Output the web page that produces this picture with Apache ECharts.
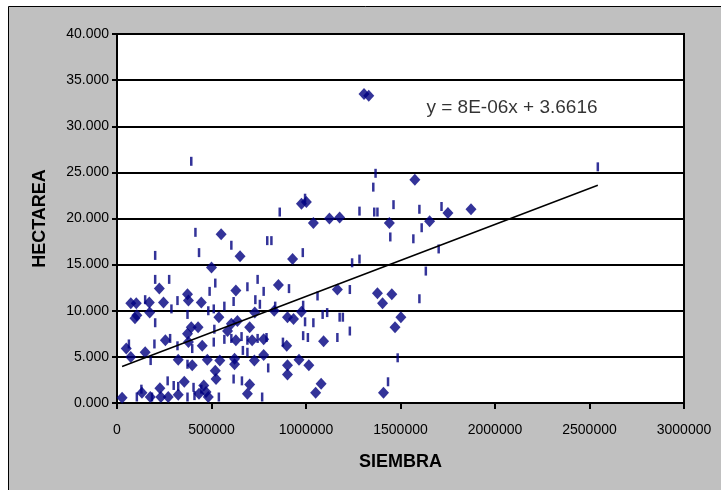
<!DOCTYPE html>
<html>
<head>
<meta charset="utf-8">
<script src="https://cdn.jsdelivr.net/npm/echarts@6/dist/echarts.min.js"></script>
<style>
html,body{margin:0;padding:0;background:#fff;}
#c{width:721px;height:490px;}
</style>
</head>
<body>
<div id="c"></div>
<script>
// Diamond-marker points (SIEMBRA, HECTAREA)
const diamondX = [27000,49000,73000,73000,102000,95000,105000,149000,171000,173000,224000,227000,246000,256000,232000,132000,176000,271000,324000,324000,356000,373000,378000,373000,393000,398000,378000,429000,446000,451000,459000,434000,471000,483000,478000,500000,520000,524000,539000,551000,544000,585000,605000,622000,622000,629000,629000,637000,651000,702000,690000,702000,715000,727000,729000,776000,776000,832000,854000,898000,902000,902000,902000,929000,934000,963000,976000,976000,1002000,1015000,1039000,1051000,1080000,1093000,1124000,1166000,1178000,1307000,1332000,1378000,1405000,1410000,1441000,1454000,1471000,1502000,1576000,1654000,1751000,1873000];
const diamondY = [0.58,5.9,5.0,10.8,10.8,9.2,9.5,5.5,10.9,9.8,12.4,1.6,10.9,6.8,0.65,1.1,0.65,0.65,4.7,0.9,2.3,11.8,11.1,7.5,8.2,4.1,6.6,8.2,10.9,6.2,1.9,1.0,1.2,0.65,4.7,14.7,3.5,2.6,9.3,18.3,4.6,7.8,8.6,4.2,4.8,12.2,6.8,8.9,15.9,2.0,1.0,8.2,6.8,4.6,9.8,5.2,6.9,10.0,12.8,6.2,9.3,4.1,3.1,15.6,9.1,4.7,9.9,21.6,21.8,4.1,19.5,1.1,2.1,6.7,20.0,12.3,20.1,33.5,33.3,11.9,10.8,1.1,19.5,11.8,8.2,9.3,24.2,19.7,20.6,21.0];
// Thin vertical tick-marker points
const tickX = [393000,2544000,1368000,1356000,995000,861000,1283000,1361000,1378000,1463000,1600000,1717000,1612000,1446000,1568000,1702000,415000,795000,817000,605000,983000,202000,434000,1244000,1283000,1634000,202000,276000,744000,520000,690000,490000,776000,910000,1232000,1600000,1061000,320000,149000,732000,512000,568000,617000,756000,288000,373000,483000,837000,985000,1088000,1112000,1178000,1195000,995000,1039000,202000,515000,1232000,985000,1010000,1166000,568000,605000,659000,690000,744000,791000,878000,281000,63000,198000,320000,398000,512000,666000,690000,178000,373000,800000,1485000,1434000,268000,300000,617000,661000,129000,105000,185000,324000,405000,373000,539000,768000,410000,446000];
const tickY = [26.2,25.6,24.9,23.4,22.2,20.7,20.8,20.7,20.7,21.5,21.0,21.3,19.0,18.0,17.8,16.7,18.5,17.6,17.6,17.1,16.3,16.0,16.3,15.2,15.6,14.3,13.4,13.4,13.4,13.0,12.6,12.1,12.1,12.4,12.3,11.3,11.6,11.1,11.2,11.2,10.2,10.5,11.0,10.7,10.2,9.6,10.0,10.5,10.6,9.6,9.8,9.3,9.3,8.8,8.7,8.7,8.0,7.8,7.3,7.1,7.1,6.9,7.0,7.2,6.8,7.0,7.1,6.6,7.0,6.4,6.4,6.2,5.9,6.6,5.7,5.5,4.6,4.2,3.8,4.9,2.3,2.4,1.9,2.6,2.4,1.5,0.65,0.65,1.8,1.7,0.65,0.65,0.65,0.8,1.5];
// Linear trend line endpoints as drawn
const trendX = [27000, 2544000];
const trendY = [3.95, 23.6];
const equationText = 'y = 8E-06x + 3.6616';
const xTitle = 'SIEMBRA';
const yTitle = 'HECTAREA';

const font = '"Liberation Sans", Arial, sans-serif';
const navy = '#000080';
const zip = (a, b) => a.map((v, i) => [v, b[i]]);

const chart = echarts.init(document.getElementById('c'), null, {renderer: 'canvas'});
chart.setOption({
  animation: false,
  backgroundColor: '#ffffff',
  graphic: [
    {type: 'rect', z: -10, shape: {x: 8.5, y: 6.5, width: 800, height: 600},
     style: {fill: '#C0C0C0', stroke: '#000', lineWidth: 1}}
  ],
  grid: {left: 117, top: 34, right: 37, bottom: 87, show: true,
         backgroundColor: '#ffffff', borderColor: '#000', borderWidth: 2},
  xAxis: {
    type: 'value', min: 0, max: 3000000, interval: 500000,
    name: xTitle, nameLocation: 'middle', nameGap: 50,
    nameTextStyle: {fontFamily: font, fontSize: 18, fontWeight: 'bold', color: '#000'},
    axisLine: {show: true, lineStyle: {color: '#000', width: 2}},
    axisTick: {show: true, inside: false, length: 6, lineStyle: {color: '#000', width: 2}},
    axisLabel: {fontFamily: font, fontSize: 14, color: '#000', margin: 20,
                formatter: v => String(v)},
    splitLine: {show: false}
  },
  yAxis: {
    type: 'value', min: 0, max: 40, interval: 5,
    name: yTitle, nameLocation: 'middle', nameGap: 68,
    nameTextStyle: {fontFamily: font, fontSize: 18, fontWeight: 'bold', color: '#000'},
    axisLine: {show: true, lineStyle: {color: '#000', width: 2}},
    axisTick: {show: true, inside: false, length: 5, lineStyle: {color: '#000', width: 2}},
    axisLabel: {fontFamily: font, fontSize: 14, color: '#000', margin: 8,
                formatter: v => v.toFixed(3)},
    splitLine: {show: true, lineStyle: {color: '#000', width: 2}}
  },
  series: [
    {type: 'scatter', name: 'ticks', data: zip(tickX, tickY), symbol: 'rect',
     symbolSize: [2.5, 9], itemStyle: {color: navy}, z: 3},
    {type: 'scatter', name: 'diamonds', data: zip(diamondX, diamondY), symbol: 'diamond',
     symbolSize: [11, 12], itemStyle: {color: navy}, z: 4},
    {type: 'line', name: 'trend', data: zip(trendX, trendY), showSymbol: false, symbol: 'none',
     lineStyle: {color: '#000', width: 1.5}, z: 5, silent: true},
    {type: 'scatter', name: 'eq', data: [[2090000, 32.0]], symbolSize: 0, silent: true,
     label: {show: true, position: 'inside', formatter: equationText,
             fontFamily: font, fontSize: 19, color: '#000'}, z: 6}
  ]
});
</script>
</body>
</html>
